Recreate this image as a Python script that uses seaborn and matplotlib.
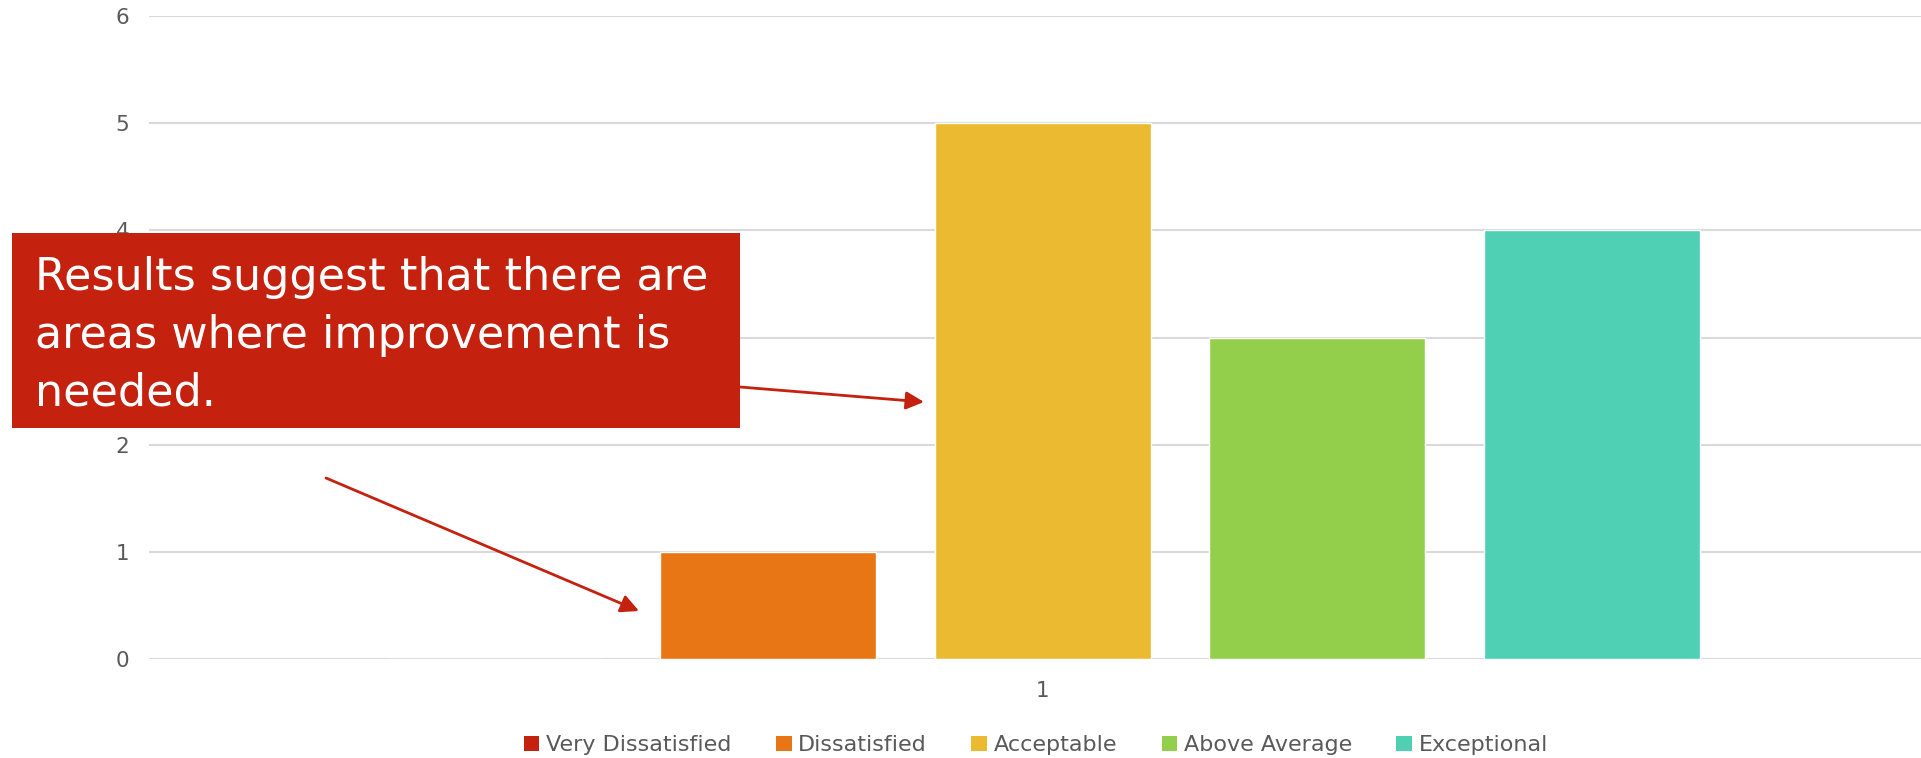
import pandas as pd
import matplotlib.pyplot as plt
import seaborn as sns
from matplotlib.patches import Patch

# Дані
categories = ['Very Dissatisfied', 'Dissatisfied', 'Acceptable', 'Above Average', 'Exceptional']
values = [0, 1, 5, 3, 4]
group = ['1'] * len(categories)
colors = ['#C4210F', '#E97614', '#EBBA30', '#93CF4B', '#4FCFB4']
yticks = [0, 1, 2, 3, 4, 5, 6]
callout_lines = ['Results suggest that there are', 'areas where improvement is', 'needed.']

df = pd.DataFrame({'group': group, 'level': categories, 'count': values})

sns.set_theme(style='white')
plt.rcParams['font.family'] = ['DejaVu Sans']

fig = plt.figure(figsize=(19.21, 7.58), dpi=100)
ax = fig.add_axes([149 / 1921, 99 / 758, 1 - 149 / 1921, 643 / 758])

sns.barplot(data=df, x='group', y='count', hue='level', hue_order=categories,
            palette=colors, width=0.8, gap=0.214, saturation=1, ax=ax, legend=False)

ax.set_ylim(0, 6)
ax.set_yticks(yticks)
ax.set_xlim(-0.521, 0.512)
ax.yaxis.grid(True, color='#d9d9d9', linewidth=1.5)
ax.set_axisbelow(True)
for s in ax.spines.values():
    s.set_visible(False)
ax.tick_params(axis='y', length=0, pad=14, labelsize=15.5, labelcolor='#595959')
ax.tick_params(axis='x', length=0, pad=16, labelsize=15.5, labelcolor='#595959')
ax.set_xlabel('')
ax.set_ylabel('')

handles = [Patch(facecolor=c, edgecolor='none') for c in colors]
fig.legend(handles, categories, loc='center', bbox_to_anchor=(1036 / 1921, 1 - 745 / 758),
           ncol=5, frameon=False, fontsize=16, labelcolor='#595959',
           handlelength=0.7, handleheight=0.65, handletextpad=0.3, columnspacing=2.0)

# Виноска з стрілками
red = '#C4210F'
for start, end in [((740, 387), (924, 402)), ((326, 478), (639, 611))]:
    ax.annotate('', xy=(end[0] / 1921, 1 - end[1] / 758), xycoords='figure fraction',
                xytext=(start[0] / 1921, 1 - start[1] / 758), textcoords='figure fraction',
                arrowprops=dict(arrowstyle='-|>,head_length=0.9,head_width=0.45',
                                color=red, linewidth=2, shrinkA=0, shrinkB=0))

fig.patches.append(plt.Rectangle((12 / 1921, 1 - 428 / 758), 728 / 1921, 195 / 758,
                                 transform=fig.transFigure, facecolor=red, edgecolor='none', zorder=5))
for line, base in zip(callout_lines, [290, 348, 405]):
    fig.text(35 / 1921, 1 - base / 758, line, color='white', fontsize=32,
             va='baseline', ha='left', zorder=6)

plt.savefig('out.png', dpi=100)
plt.close()
